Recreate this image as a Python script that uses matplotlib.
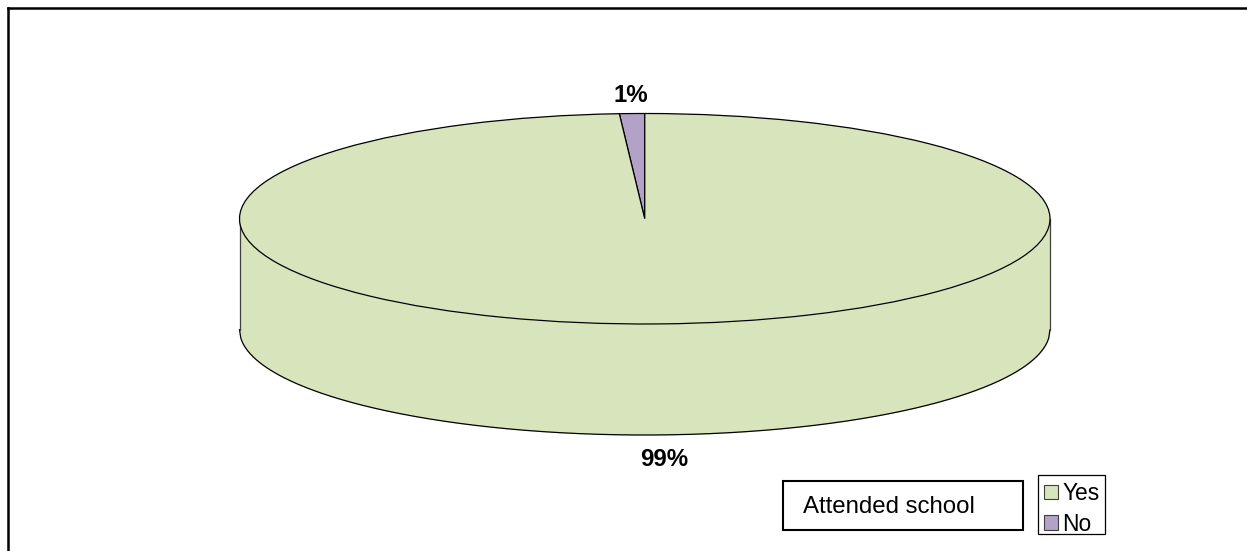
import numpy as np
import matplotlib
matplotlib.use("Agg")
import matplotlib.pyplot as plt
from matplotlib.lines import Line2D
from matplotlib.patches import Patch, Rectangle

# Survey result
categories = ["Yes", "No"]
shares = [99, 1]
legend_title = "Attended school"
slice_colors = {"Yes": "#D7E4BC", "No": "#B2A2C7"}

plt.rcParams["font.family"] = ["Liberation Sans", "DejaVu Sans"]

W, H = 1247, 551
fig = plt.figure(figsize=(W / 100, H / 100), dpi=100, facecolor="white")


def fx(px):
    return px / W


def fy(py):
    return 1 - py / H


# Axes span the disc plus the height of the cylinder wall
cx_left, cx_right = 239.5, 1050
top, rim_bottom = 113.5, 324
depth = 111
radius_y = (rim_bottom - top) / 2
ax = fig.add_axes([fx(cx_left), fy(rim_bottom + depth),
                   fx(cx_right - cx_left), (rim_bottom + depth - top) / H])

# Side wall of the cylinder, drawn behind the top face
wall_h = depth / radius_y
x = np.linspace(-1, 1, 600)
rim = -np.sqrt(1 - x ** 2)
ax.fill_between(x, rim, rim - wall_h, color=slice_colors["Yes"], lw=0, zorder=1)
ax.plot(x, rim - wall_h, color="black", lw=0.9, zorder=2, clip_on=False)
ax.plot([-1, -1], [0, -wall_h], color="#404040", lw=0.9, zorder=2, clip_on=False)
ax.plot([1, 1], [0, -wall_h], color="#404040", lw=0.9, zorder=2, clip_on=False)

# Top face: the smaller slice runs counter-clockwise from twelve o'clock
order = categories[::-1]
values = [shares[categories.index(c)] for c in order]
ax.pie(values, startangle=90, counterclock=True, radius=1,
       colors=[slice_colors[c] for c in order],
       wedgeprops=dict(edgecolor="black", linewidth=0.9, zorder=3))
ax.set_aspect("auto")
ax.set_xlim(-1, 1)
ax.set_ylim(-1 - wall_h, 1)
ax.axis("off")
for art in ax.patches + ax.lines:
    art.set_clip_on(False)

# Percentage labels
for cat, pos in zip(categories, [(664.5, 459.5), (631, 96)]):
    fig.text(fx(pos[0]), fy(pos[1]), f"{shares[categories.index(cat)]}%",
             fontsize=17.3, fontweight="bold", ha="center", va="center", color="black")

# Chart border: only the top and left edges fall inside the frame
fig.add_artist(Line2D([fx(8), 1], [fy(8), fy(8)], color="black", lw=1.8,
                      transform=fig.transFigure))
fig.add_artist(Line2D([fx(8), fx(8)], [fy(8), 0], color="black", lw=1.8,
                      transform=fig.transFigure))

# Legend title box
fig.add_artist(Rectangle((fx(783), fy(530)), fx(1023 - 783), (530 - 481) / H,
                         facecolor="white", edgecolor="black", lw=1.5,
                         transform=fig.transFigure))
fig.text(fx(803), fy(507), legend_title, fontsize=17.3, ha="left", va="center",
         color="black")

# Legend entries inside a separately sized frame
fig.add_artist(Rectangle((fx(1038), fy(534)), fx(1105 - 1038), (534 - 475) / H,
                         facecolor="white", edgecolor="black", lw=0.9,
                         transform=fig.transFigure))
handles = [Patch(facecolor=slice_colors[c], edgecolor="#404040", lw=0.8) for c in categories]
fig.legend(handles, categories, loc="upper left",
           bbox_to_anchor=(fx(1044), fy(482)), bbox_transform=fig.transFigure,
           fontsize=16.4, frameon=False, borderaxespad=0, borderpad=0, labelspacing=0.33,
           handlelength=0.61, handleheight=0.61, handletextpad=0.2)

fig.savefig("out.png", dpi=100)
